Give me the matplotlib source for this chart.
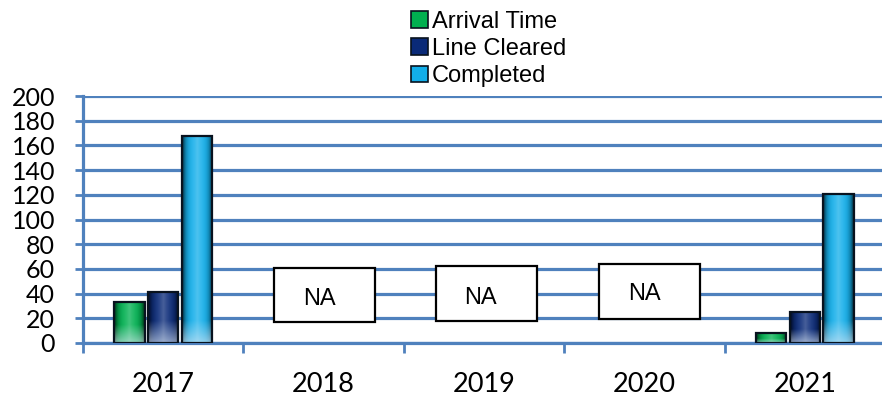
import numpy as np
import matplotlib
matplotlib.use("Agg")
import matplotlib.pyplot as plt
from matplotlib.patches import Rectangle
from matplotlib.colors import to_rgb

# 연도별 건수 (2018~2020 은 자료 없음)
years = ["2017", "2018", "2019", "2020", "2021"]
arrival = [33, np.nan, np.nan, np.nan, 8]
cleared = [41, np.nan, np.nan, np.nan, 25]
completed = [168, np.nan, np.nan, np.nan, 121]
series_names = ["Arrival Time", "Line Cleared", "Completed"]
series_colors = ["#00B050", "#0A2A78", "#12AEEA"]
na_label = "NA"

grid_blue = "#4F81BD"

fig = plt.figure(figsize=(8.82, 3.99), dpi=100)
ax = fig.add_axes([83 / 882, 56 / 399, 1 - 83 / 882, 247 / 399])

x = np.arange(len(years))
width = 0.19
offsets = [-0.21, 0, 0.21]


def shade(color, h, nx=40, ny=200):
    # 가운데는 밝고 가장자리는 어두운 원통형 음영 + 아래쪽 하이라이트
    base = np.array(to_rgb(color))
    t = np.linspace(-1, 1, nx)
    side = 0.25 + 0.75 * (1 - np.abs(t) ** 4)
    glow = 0.25 * (1 - np.abs(t)) ** 2
    yy = np.linspace(0, h, ny)
    fade = min(18.0, h * 0.45)
    low = np.clip(1 - yy / fade, 0, 1) * 0.6
    img = base[None, None, :] * side[None, :, None]
    img = img + (1 - img) * glow[None, :, None]
    img = img + (np.array([0.85, 0.9, 0.95]) - img) * low[:, None, None]
    return np.clip(img, 0, 1)


ax.set_xlim(-0.5, 4.5 - 3 / 160.5)
ax.set_ylim(0, 200)

handles = []
for vals, off, col, name in zip([arrival, cleared, completed], offsets, series_colors, series_names):
    bars = ax.bar(x + off, vals, width, color="none", edgecolor="#08121E", linewidth=1.6, zorder=4)
    for b, v in zip(bars, vals):
        if np.isnan(v):
            continue
        x0 = b.get_x()
        im = ax.imshow(shade(col, v), extent=[x0, x0 + width, 0, v], origin="lower",
                       aspect="auto", zorder=3, interpolation="bilinear")
        im.set_clip_path(b)
    handles.append(Rectangle((0, 0), 1, 1, facecolor=col, edgecolor="#08121E", linewidth=1.2))

# 자료 없는 연도 표시 상자
na_boxes = [(1.005, 17.2, 60.9), (2.017, 18.0, 62.5), (3.03, 19.7, 64.1)]
na_text = [(0.977, 35.8), (1.98, 36.6), (3.0, 39.9)]
for (cx, y0, y1), (tx, ty) in zip(na_boxes, na_text):
    ax.add_patch(Rectangle((cx - 0.315, y0), 0.63, y1 - y0, facecolor="white",
                           edgecolor="black", linewidth=1.6, zorder=5))
    ax.text(tx, ty, na_label, ha="center", va="center", fontsize=17,
            family="Liberation Sans", zorder=6)

# 축과 눈금
ax.set_yticks(np.arange(0, 201, 20))
ax.yaxis.grid(True, color=grid_blue, linewidth=2.3)
ax.set_axisbelow(True)
for s in ["top", "right"]:
    ax.spines[s].set_visible(False)
for s in ["left", "bottom"]:
    ax.spines[s].set_color(grid_blue)
    ax.spines[s].set_linewidth(2.3)
ax.tick_params(axis="y", colors=grid_blue, length=6, width=2, pad=14, labelcolor="black",
               labelsize=18)
ax.set_xticks(x)
ax.set_xticklabels(years, family="Lato", fontsize=19.5)
ax.set_xticks(np.arange(-0.5, 4.5, 1), minor=True)
ax.tick_params(axis="x", which="major", length=0, pad=21)
ax.tick_params(axis="x", which="minor", length=7, width=2, color=grid_blue)
for lab in ax.get_yticklabels():
    lab.set_family("Lato")

fig.legend(handles, series_names, loc="upper left", bbox_to_anchor=(402 / 882, 0.997),
           frameon=False, prop={"family": "Liberation Sans", "size": 17},
           handlelength=0.7, handleheight=0.7, handletextpad=0.15, labelspacing=0.22,
           borderaxespad=0)

fig.savefig("out.png", dpi=100)
